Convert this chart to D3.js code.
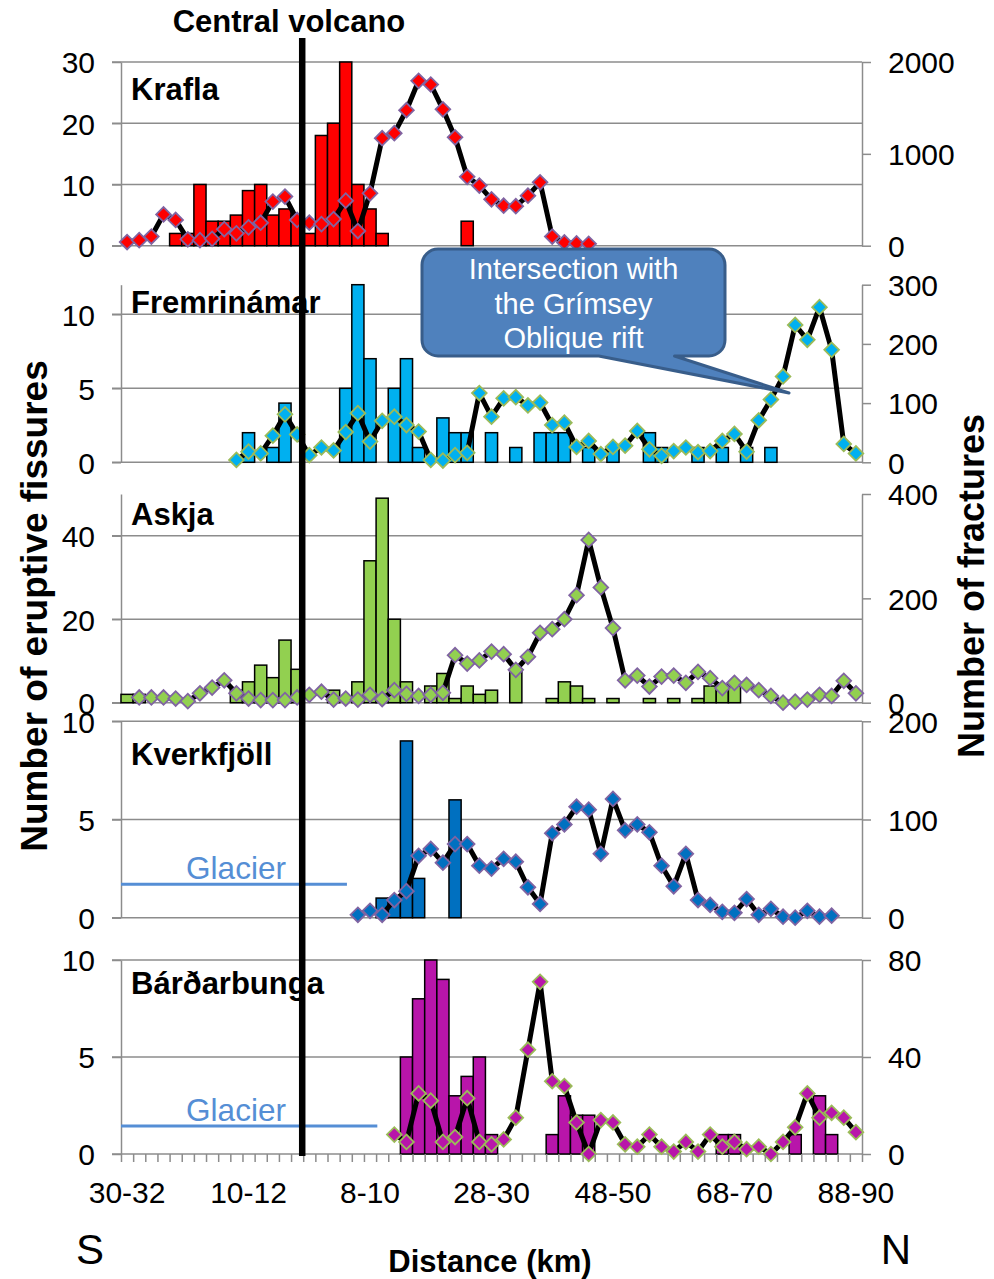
<!DOCTYPE html>
<html>
<head>
<meta charset="utf-8">
<script src="https://cdn.jsdelivr.net/npm/d3@7"></script>
<style>
  html, body { margin: 0; padding: 0; background: #fff; }
  svg { display: block; font-family: "Liberation Sans", Arial, sans-serif; }
</style>
</head>
<body>
<svg id="chart" width="994" height="1279"></svg>
<script>
// Distance bins (2 km): south side 30-32 ... 0-2, then north side 0-2 ... 88-90
const southBins = d3.range(30, -1, -2).map(d => `${d}-${d + 2}`);
const northBins = d3.range(0, 89, 2).map(d => `${d}-${d + 2}`);
const distanceBins = southBins.concat(northBins);          // 61 bins
const labelledBins = [0, 10, 20, 30, 40, 50, 60];           // bins carrying a tick label

const volcanoes = ["Krafla", "Fremrinámar", "Askja", "Kverkfjöll", "Bárðarbunga"];

// helper: sparse series from {bin: value}
function series(obj, fill) {
  return distanceBins.map((_, i) => (i in obj ? obj[i] : fill));
}

// Number of eruptive fissures per bin
const fissuresKrafla = series({4:2,5:2,6:10,7:4,8:4,9:5,10:9,11:10,12:5,13:6,14:5,15:2,16:18,17:20,18:30,19:10,20:6,21:2,28:4}, 0);
const fissuresFremrinamar = series({10:2,12:1,13:4,18:5,19:12,20:7,22:5,23:7,24:1,26:3,27:2,28:2,30:2,32:1,34:2,35:2,36:2,38:1,40:1,43:2,44:1,47:1,49:1,51:1,53:1}, 0);
const fissuresAskja = series({0:2,1:2,9:3,10:5,11:9,12:6,13:15,14:8,17:3,19:5,20:34,21:49,22:20,23:5,25:4,26:7,27:1,28:4,29:2,30:3,32:8,35:1,36:5,37:4,38:1,40:1,43:1,45:1,47:1,48:4,49:4,50:4}, 0);
const fissuresKverkfjoll = series({21:1,22:1,23:9,24:2,27:6}, 0);
const fissuresBardarbunga = series({23:5,24:8,25:10,26:9,27:3,28:4,29:5,30:1,35:1,36:3,37:2,38:2,49:1,50:1,55:1,57:3,58:1}, 0);

// Number of fractures per bin (null = no data)
const fracturesKrafla = series({0:40,1:60,2:100,3:340,4:280,5:70,6:60,7:75,8:180,9:135,10:200,11:250,12:480,13:535,14:280,15:250,16:235,17:290,18:490,19:160,20:570,21:1170,22:1225,23:1475,24:1795,25:1755,26:1485,27:1180,28:750,29:655,30:505,31:435,32:430,33:545,34:690,35:100,36:35,37:25,38:20}, null);
const fracturesFremrinamar = series({9:4,10:18,11:15,12:45,13:81,14:47,15:12,16:25,17:20,18:51,19:83,20:35,21:70,22:77,23:63,24:52,25:4,26:3,27:12,28:16,29:117,30:77,31:108,32:110,33:96,34:101,35:63,36:67,37:26,38:36,39:14,40:26,41:28,42:53,43:22,44:11,45:19,46:25,47:17,48:19,49:36,50:48,51:18,52:71,53:106,54:145,55:232,56:207,57:262,58:190,59:31,60:15}, null);
const fracturesAskja = series({1:10,2:10,3:10,4:8,5:3,6:18,7:29,8:43,9:18,10:8,11:5,12:5,13:5,14:10,15:15,16:21,17:6,18:8,19:6,20:15,21:7,22:24,23:17,24:13,25:15,26:19,27:91,28:75,29:81,30:98,31:93,32:63,33:88,34:134,35:141,36:160,37:206,38:312,39:221,40:143,41:43,42:52,43:31,44:50,45:52,46:38,47:59,48:47,49:28,50:38,51:34,52:24,53:13,54:0,55:2,56:6,57:15,58:13,59:42,60:18}, null);
const fracturesKverkfjoll = series({19:3,20:7,21:3,22:18,23:27,24:63,25:70,26:56,27:75,28:75,29:53,30:50,31:60,32:57,33:31,34:14,35:86,36:95,37:113,38:110,39:65,40:121,41:89,42:95,43:87,44:53,45:32,46:65,47:18,48:13,49:6,50:5,51:19,52:3,53:9,54:1,55:0,56:7,57:1,58:2}, null);
const fracturesBardarbunga = series({22:8,23:5,24:25,25:22,26:5,27:7,28:23,29:5,30:4,31:6,32:15,33:43,34:71,35:30,36:28,37:13,38:0,39:14,40:13,41:4,42:3,43:8,44:3,45:1,46:5,47:1,48:8,49:3,50:5,51:2,52:3,53:0,54:5,55:11,56:25,57:15,58:17,59:15,60:9}, null);

// Axis ticks per panel
const fissureTicks = [[0, 10, 20, 30], [0, 5, 10], [0, 20, 40], [0, 5, 10], [0, 5, 10]];
const fissureMax = [30, 12, 50, 10, 10];
const fractureTicks = [[0, 1000, 2000], [0, 100, 200, 300], [0, 200, 400], [0, 100, 200], [0, 40, 80]];
const fractureMax = [2000, 300, 400, 200, 80];

const fissureData = [fissuresKrafla, fissuresFremrinamar, fissuresAskja, fissuresKverkfjoll, fissuresBardarbunga];
const fractureData = [fracturesKrafla, fracturesFremrinamar, fracturesAskja, fracturesKverkfjoll, fracturesBardarbunga];

// ---- layout & style ----
const plotLeft = 121, plotRight = 862;
const panelBox = [
  { top: 62,    bottom: 245.7 },
  { top: 284.7, bottom: 462.3 },
  { top: 494,   bottom: 702.7 },
  { top: 721.3, bottom: 917.7 },
  { top: 960,   bottom: 1154 }
];
const panelStyle = [
  { bar: "#ff0000", marker: "#ff0000", edge: "#8064a2" },
  { bar: "#00b0f0", marker: "#00b0f0", edge: "#9bbb59" },
  { bar: "#92d050", marker: "#92d050", edge: "#8064a2" },
  { bar: "#0070c0", marker: "#0070c0", edge: "#8064a2" },
  { bar: "#b815aa", marker: "#b815aa", edge: "#9bbb59" }
];
const gridColor = "#8c8c8c";
const tickFont = 30;

const svg = d3.select("#chart");

const x = d3.scaleBand().domain(d3.range(distanceBins.length)).range([plotLeft, plotRight]).paddingInner(0).paddingOuter(0);
const xEdge = d3.scaleLinear().domain([0, distanceBins.length]).range([plotLeft, plotRight]);
const bw = x.bandwidth();

panelBox.forEach((box, p) => {
  const y = d3.scaleLinear().domain([0, fissureMax[p]]).range([box.bottom, box.top]);
  const yR = d3.scaleLinear().domain([0, fractureMax[p]]).range([box.bottom, box.top]);
  const g = svg.append("g").attr("class", "panel");

  // horizontal gridlines
  g.append("g").selectAll("line").data(fissureTicks[p]).join("line")
    .attr("x1", plotLeft - 9).attr("x2", plotRight)
    .attr("y1", d => y(d)).attr("y2", d => y(d))
    .attr("stroke", gridColor).attr("stroke-width", 1.5);

  // left axis (fissures)
  const gl = g.append("g").attr("transform", `translate(${plotLeft},0)`)
    .call(d3.axisLeft(y).tickValues(fissureTicks[p]).tickFormat(d3.format("d")).tickSize(9).tickSizeOuter(0).tickPadding(17));
  // right axis (fractures)
  const gr = g.append("g").attr("transform", `translate(${plotRight},0)`)
    .call(d3.axisRight(yR).tickValues(fractureTicks[p]).tickFormat(d3.format("d")).tickSize(9).tickSizeOuter(0).tickPadding(17));
  [gl, gr].forEach(a => {
    a.select(".domain").attr("stroke", gridColor).attr("stroke-width", 1.5);
    a.selectAll(".tick line").attr("stroke", gridColor).attr("stroke-width", 1.5);
    a.selectAll(".tick text").attr("font-size", tickFont).attr("fill", "#000")
      .attr("font-family", "Liberation Sans, Arial, sans-serif").attr("dy", "0.36em");
  });

  // bars: eruptive fissures
  const bars = fissureData[p].map((v, i) => ({ i, v })).filter(d => d.v > 0);
  g.append("g").selectAll("rect").data(bars).join("rect")
    .attr("x", d => x(d.i)).attr("width", bw)
    .attr("y", d => y(d.v)).attr("height", d => y(0) - y(d.v))
    .attr("fill", panelStyle[p].bar).attr("stroke", "#000").attr("stroke-width", 1.5);

  // line + markers: fractures
  const pts = fractureData[p].map((v, i) => ({ i, v }));
  const line = d3.line().defined(d => d.v !== null)
    .x(d => x(d.i) + bw / 2).y(d => yR(d.v));
  g.append("path").datum(pts).attr("d", line)
    .attr("fill", "none").attr("stroke", "#000").attr("stroke-width", 5).attr("stroke-linejoin", "round");
  const diamond = d3.symbol(d3.symbolSquare, 108);
  g.append("g").selectAll("path").data(pts.filter(d => d.v !== null)).join("path")
    .attr("d", diamond)
    .attr("transform", d => `translate(${x(d.i) + bw / 2},${yR(d.v)}) rotate(45)`)
    .attr("fill", panelStyle[p].marker).attr("stroke", panelStyle[p].edge).attr("stroke-width", 1.8);

  // volcano name
  g.append("text").attr("x", 131).attr("y", [100, 313, 525, 765, 994][p])
    .attr("font-size", 31).attr("font-weight", "bold").text(volcanoes[p]);
});

// bottom category axis
const bottomY = panelBox[4].bottom;
svg.append("g").attr("transform", `translate(0,${bottomY})`)
  .call(d3.axisBottom(xEdge).tickValues(d3.range(distanceBins.length + 1)).tickFormat("").tickSize(8).tickSizeOuter(0))
  .call(a => { a.select(".domain").remove(); a.selectAll("line").attr("stroke", gridColor).attr("stroke-width", 1.5); });
svg.append("g").attr("transform", `translate(0,${bottomY})`)
  .call(d3.axisBottom(x).tickValues(labelledBins).tickFormat(i => distanceBins[i]).tickSize(0).tickPadding(28))
  .call(a => {
    a.select(".domain").remove();
    a.selectAll("text").attr("font-size", tickFont).attr("fill", "#000")
      .attr("font-family", "Liberation Sans, Arial, sans-serif");
  });

// glacier extent (Kverkfjöll, Bárðarbunga)
const glacierPanels = [3, 4];
const glacierEndBin = [18.6, 21.1];
const glacierY = [884.3, 1126];
glacierPanels.forEach((p, k) => {
  svg.append("line").attr("x1", xEdge(0)).attr("x2", xEdge(glacierEndBin[k]))
    .attr("y1", glacierY[k]).attr("y2", glacierY[k])
    .attr("stroke", "#558ed5").attr("stroke-width", 3);
  svg.append("text").attr("x", 236).attr("y", glacierY[k] - 5.5).attr("text-anchor", "middle")
    .attr("font-size", 31.5).attr("fill", "#558ed5").text("Glacier");
});

// central volcano marker
const volcanoX = xEdge(15) - 1;
svg.append("line").attr("x1", volcanoX).attr("x2", volcanoX).attr("y1", 38).attr("y2", bottomY + 2)
  .attr("stroke", "#000").attr("stroke-width", 6.5);
svg.append("text").attr("x", 289).attr("y", 32).attr("text-anchor", "middle")
  .attr("font-size", 31).attr("font-weight", "bold").text("Central volcano");

// callout
const cb = { l: 422, t: 249, r: 725, b: 356, rad: 16 };
const tip = [789, 393];
const w = cb.r - cb.l;
const callout = d3.path();
callout.moveTo(cb.l + cb.rad, cb.t);
callout.lineTo(cb.r - cb.rad, cb.t);
callout.arcTo(cb.r, cb.t, cb.r, cb.t + cb.rad, cb.rad);
callout.lineTo(cb.r, cb.b - cb.rad);
callout.arcTo(cb.r, cb.b, cb.r - cb.rad, cb.b, cb.rad);
callout.lineTo(cb.l + w * 10 / 12, cb.b);
callout.lineTo(tip[0], tip[1]);
callout.lineTo(cb.l + w * 7 / 12, cb.b);
callout.lineTo(cb.l + cb.rad, cb.b);
callout.arcTo(cb.l, cb.b, cb.l, cb.b - cb.rad, cb.rad);
callout.lineTo(cb.l, cb.t + cb.rad);
callout.arcTo(cb.l, cb.t, cb.l + cb.rad, cb.t, cb.rad);
callout.closePath();
svg.append("path").attr("d", callout.toString())
  .attr("fill", "#4f81bd").attr("stroke", "#385d8a").attr("stroke-width", 3).attr("stroke-linejoin", "round");
const calloutLines = ["Intersection with", "the Grímsey", "Oblique rift"];
svg.append("g").selectAll("text").data(calloutLines).join("text")
  .attr("x", (cb.l + cb.r) / 2).attr("y", (d, i) => 279 + i * 34.5)
  .attr("text-anchor", "middle").attr("font-size", 29).attr("fill", "#fff").text(d => d);

// axis titles
svg.append("text").attr("transform", "translate(47,606) rotate(-90)").attr("text-anchor", "middle")
  .attr("font-size", 37).attr("font-weight", "bold").text("Number of eruptive fissures");
svg.append("text").attr("transform", "translate(984,586) rotate(-90)").attr("text-anchor", "middle")
  .attr("font-size", 36).attr("font-weight", "bold").text("Number of fractures");
svg.append("text").attr("x", 490).attr("y", 1272).attr("text-anchor", "middle")
  .attr("font-size", 31).attr("font-weight", "bold").text("Distance (km)");
svg.append("text").attr("x", 90).attr("y", 1264).attr("text-anchor", "middle")
  .attr("font-size", 42).text("S");
svg.append("text").attr("x", 896).attr("y", 1264).attr("text-anchor", "middle")
  .attr("font-size", 42).text("N");
</script>
</body>
</html>
